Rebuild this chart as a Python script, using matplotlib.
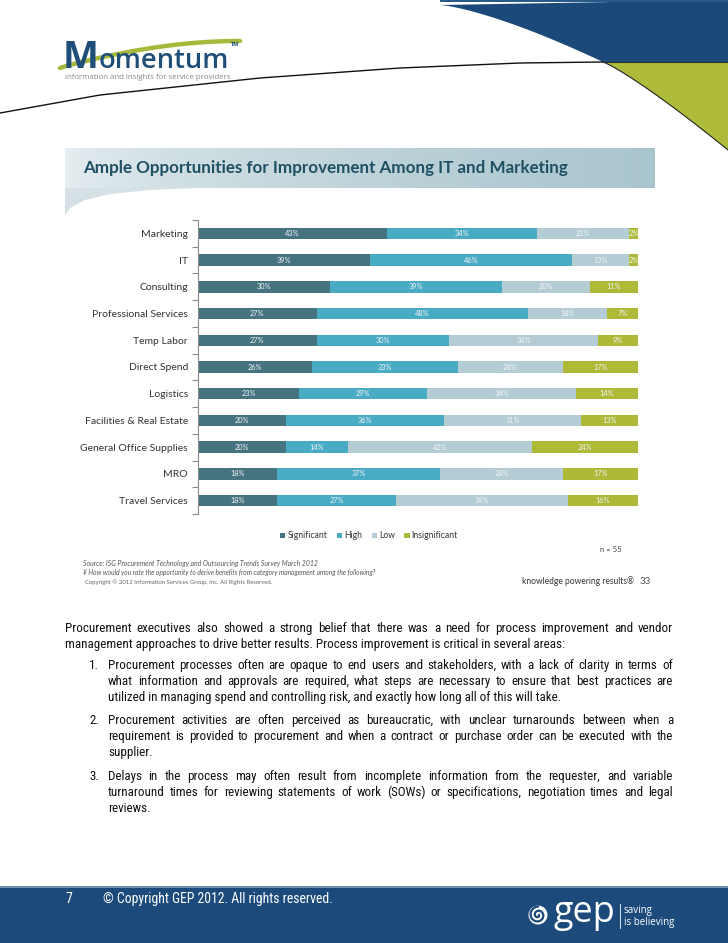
import os
import numpy as np
import matplotlib
matplotlib.use('Agg')
import matplotlib.pyplot as plt
from matplotlib import font_manager
from matplotlib.font_manager import FontProperties
from matplotlib.patches import Polygon, Rectangle, Circle, Patch

categories = ["Marketing", "IT", "Consulting", "Professional Services", "Temp Labor",
              "Direct Spend", "Logistics", "Facilities & Real Estate",
              "General Office Supplies", "MRO", "Travel Services"]
significant = [43, 39, 30, 27, 27, 26, 23, 20, 20, 18, 18]
high = [34, 46, 39, 48, 30, 33, 29, 36, 14, 37, 27]
low = [21, 13, 20, 18, 34, 24, 34, 31, 42, 28, 39]
insignificant = [2, 2, 11, 7, 9, 17, 14, 13, 24, 17, 16]
series_names = ["Significant", "High", "Low", "Insignificant"]
colors = ["#45737f", "#4aabc5", "#b4cdd5", "#adb937"]

title = "Ample Opportunities for Improvement Among IT and Marketing"
body_par = ["Procurement executives also showed a strong belief that there was a need for process improvement and vendor",
            "management approaches to drive better results. Process improvement is critical in several areas:"]
items = [
    ["Procurement processes often are opaque to end users and stakeholders, with a lack of clarity in terms of",
     "what information and approvals are required, what steps are necessary to ensure that best practices are",
     "utilized in managing spend and controlling risk, and exactly how long all of this will take."],
    ["Procurement activities are often perceived as bureaucratic, with unclear turnarounds between when a",
     "requirement is provided to procurement and when a contract or purchase order can be executed with the",
     "supplier."],
    ["Delays in the process may often result from incomplete information from the requester, and variable",
     "turnaround times for reviewing statements of work (SOWs) or specifications, negotiation times and legal",
     "reviews."],
]

W, H = 728, 943
fig = plt.figure(figsize=(W / 100, H / 100), dpi=100)
fig.patch.set_facecolor('white')
bg = fig.add_axes([0, 0, 1, 1], zorder=0)
bg.set_xlim(0, W); bg.set_ylim(H, 0); bg.axis('off')

names = {f.name for f in font_manager.fontManager.ttflist}
cal = 'Lato' if 'Lato' in names else 'DejaVu Sans'
logo = 'Open Sans' if 'Open Sans' in names else 'DejaVu Sans'


def find_narrow():
    bad = ('bold', 'italic', 'oblique', 'light', 'semi', 'extra', 'black', 'medium', 'thin', 'heavy')
    prefs = ['liberationsansnarrow', 'robotocondensed', 'opensanscondensed', 'notosanscondensed',
             'dejavusanscondensed', 'narrow', 'condensed']
    files = [f.fname for f in font_manager.fontManager.ttflist]
    for p in prefs:
        for fn in files:
            b = os.path.basename(fn).lower().replace('-', '').replace('_', '').replace(' ', '')
            if p in b and not any(k in b for k in bad):
                return FontProperties(fname=fn)
    return FontProperties(family='Liberation Sans')


NARROW = find_narrow()
R = fig.canvas.get_renderer()


def wid(t):
    return t.get_window_extent(renderer=R).width


def fit(x, y, s, target, size0=10, **kw):
    t = bg.text(x, y, s, fontsize=size0, **kw)
    t.set_fontsize(size0 * target / wid(t))
    return t


# ---------- top decoration ----------
bx = np.linspace(440, 603, 40)
by = 5 + 57 * ((bx - 440) / 163) ** 1.35
bg.add_patch(Polygon(np.column_stack([np.r_[bx, W, W], np.r_[by, 62, 0]]),
                     closed=True, fc="#1b4a7a", ec='none'))
bg.add_patch(Rectangle((440, 0), W - 440, 2, fc="#2a5a8a", ec='none'))
gx = np.linspace(603, W, 40)
gy = 62 + 88 * ((gx - 603) / 125) ** 1.15
bg.add_patch(Polygon(np.column_stack([np.r_[gx, W], np.r_[gy, 62]]),
                     closed=True, fc="#afbb3a", ec='none'))
bg.plot(gx, gy, color='#222', lw=0.8)
bg.plot([603, W], [62, 62], color='#333', lw=0.8)
lx = np.array([0, 100, 260, 400, 520, 603])
ly = np.array([113, 95, 78, 68, 63, 62])
lxx = np.linspace(0, 603, 100)
bg.plot(lxx, np.interp(lxx, lx, ly), color='#111', lw=1.0)

# Momentum logo
sx = np.linspace(60, 240, 60)
sy = 68 - 27 * np.sin(np.pi * (sx - 60) / 360) ** 0.9
bg.plot(sx, sy, color="#a7b93c", lw=3.2, solid_capstyle='round', zorder=1)
fit(63, 68, "M", 36, size0=30, family=logo, weight='bold', color="#1f4e79", va='baseline', zorder=2)
fit(99, 68, "omentum", 130, size0=20, family=logo, weight='semibold', color="#1f4e79", va='baseline', zorder=2)
bg.text(231, 46, "TM", fontsize=4, family=logo, weight='bold', color="#1f4e79")
fit(65, 79, "information and insights for service providers", 168, size0=6, family=logo,
    color="#8a8a8a", va='baseline')

# ---------- title banner ----------
grad = np.linspace(0, 1, 256)
c0 = np.array([0xe8, 0xef, 0xf2]) / 255
c1 = np.array([0xa9, 0xc5, 0xcd]) / 255
img = (c0[None, :] * (1 - grad[:, None] ** 0.6) + c1[None, :] * grad[:, None] ** 0.6)[None, :, :]
bg.imshow(img, extent=(65, 655, 188, 148), aspect='auto', zorder=1)
swx = np.array([65, 200, 150, 110, 85, 70, 65])
swy = np.array([188, 188, 190, 194, 200, 208, 215])
bg.add_patch(Polygon(np.column_stack([swx, swy]), closed=True, fc="#d6e1e5", ec='none', zorder=1))
fit(83, 173, title, 482, size0=12, family=cal, weight='bold', color="#1f5063", va='baseline', zorder=3)

# ---------- bar chart ----------
ax = fig.add_axes([198 / W, 1 - 514 / H, 440 / W, 294 / H], zorder=2)
ax.set_facecolor('none')
y = np.arange(len(categories))
left = np.zeros(len(categories))
for vals, c, name in zip([significant, high, low, insignificant], colors, series_names):
    bars = ax.barh(y, vals, left=left, height=0.43, color=c, label=name)
    ax.bar_label(bars, labels=[f"{v}%" for v in vals], label_type='center',
                 fontsize=5.3, color='#f2f5f6', family=cal)
    left += np.array(vals)
ax.set_xlim(0, 100)
ax.set_ylim(len(categories) - 0.5, -0.5)
for s in ['top', 'right', 'bottom']:
    ax.spines[s].set_visible(False)
ax.spines['left'].set_color('#8a8a8a')
ax.spines['left'].set_linewidth(0.8)
ax.set_xticks([])
ax.set_yticks(np.arange(-0.5, len(categories), 1))
ax.set_yticklabels([])
ax.tick_params(axis='y', which='major', length=4, color='#8a8a8a', width=0.8)
ax.set_yticks(y, minor=True)
ax.set_yticklabels(categories, minor=True, fontsize=7.5, family=cal, color='#333333')
ax.tick_params(axis='y', which='minor', length=0, pad=7.2)

handles = [Patch(fc=c, ec='none', label=n) for c, n in zip(colors, series_names)]
fig.legend(handles=handles, loc='center', bbox_to_anchor=(369 / W, 1 - 536 / H), ncol=4,
           frameon=False, prop={'family': cal, 'size': 6.2}, handlelength=0.6, handleheight=0.6,
           handletextpad=0.25, columnspacing=1.1, labelcolor='#333333')

bg.text(622, 549, "n = 55", fontsize=5.5, family=cal, color='#444', ha='right', va='center')
fit(83, 566, "Source: ISG Procurement Technology and Outsourcing Trends Survey March 2012", 235,
    size0=5, family=cal, style='italic', color='#555', va='baseline')
fit(83, 575, "\u00a5 How would you rate the opportunity to derive benefits from category management among the following?", 295,
    size0=5, family=cal, style='italic', color='#555', va='baseline')
fit(85, 584, "Copyright \u00a9 2012 Information Services Group, Inc. All Rights Reserved.", 190,
    size0=4.5, family=cal, color='#666', va='baseline')
fit(522, 584, "knowledge powering results\u00ae", 112, size0=7, family=cal, color='#333', va='baseline')
bg.text(640, 584, "33", fontsize=7, family=cal, color='#555', va='baseline')

# ---------- body text ----------
X0, X1 = 65, 673
probe = bg.text(0, 0, body_par[1], fontsize=10, fontproperties=NARROW)
probe.set_fontsize(10)
bsize = 10 * (560 - 65) / wid(probe)
probe.remove()


def mk(x, yb, s):
    t = bg.text(x, yb, s, fontproperties=NARROW, color='#111', va='baseline')
    t.set_fontsize(bsize)
    return t


def line(x0, x1, yb, s, justify=True):
    if not justify:
        mk(x0, yb, s)
        return
    words = s.split()
    ts = [mk(0, yb, w) for w in words]
    ws = [wid(t) for t in ts]
    gap = (x1 - x0 - sum(ws)) / (len(words) - 1)
    x = x0
    for t, w in zip(ts, ws):
        t.set_x(x)
        x += w + gap


line(X0, X1, 632, body_par[0])
line(X0, X1, 648, body_par[1], justify=False)
ybase = [[669, 685, 701], [724, 740, 756], [780, 796, 812]]
for i, (it, yy) in enumerate(zip(items, ybase)):
    mk(89, yy[0], f"{i + 1}.")
    for j, (s, yb) in enumerate(zip(it, yy)):
        line(108, X1, yb, s, justify=(j < len(it) - 1))

# ---------- footer ----------
bg.add_patch(Rectangle((0, 887), W, H - 887, fc="#1b4a7b", ec='none'))
bg.add_patch(Rectangle((0, 886), W, 1.5, fc="#6d8fb0", ec='none'))
t7 = bg.text(65, 903, "7", fontproperties=NARROW, color='white', va='baseline')
t7.set_fontsize(10)
tc = bg.text(103, 903, "\u00a9 Copyright GEP 2012. All rights reserved.", fontproperties=NARROW,
             color='white', va='baseline')
tc.set_fontsize(10)
tc.set_fontsize(10 * 230 / wid(tc))
bg.add_patch(Circle((538, 915), 9.5, fc='white', ec='none'))
th = np.linspace(0, 3.5 * np.pi, 200)
r = 1 + 7.5 * th / th.max()
bg.plot(538 + r * np.cos(th), 915 + r * np.sin(th), color="#1b4a7b", lw=1.6)
fit(553, 922, "gep", 62, size0=24, family=logo, color='white', va='baseline')
bg.plot([620, 620], [904, 928], color='white', lw=0.6)
bg.text(624, 913, "saving", fontsize=7, family=logo, color='white', va='baseline')
bg.text(624, 925, "is believing", fontsize=7, family=logo, color='white', va='baseline')

fig.savefig("out.png", dpi=100, facecolor='white')
